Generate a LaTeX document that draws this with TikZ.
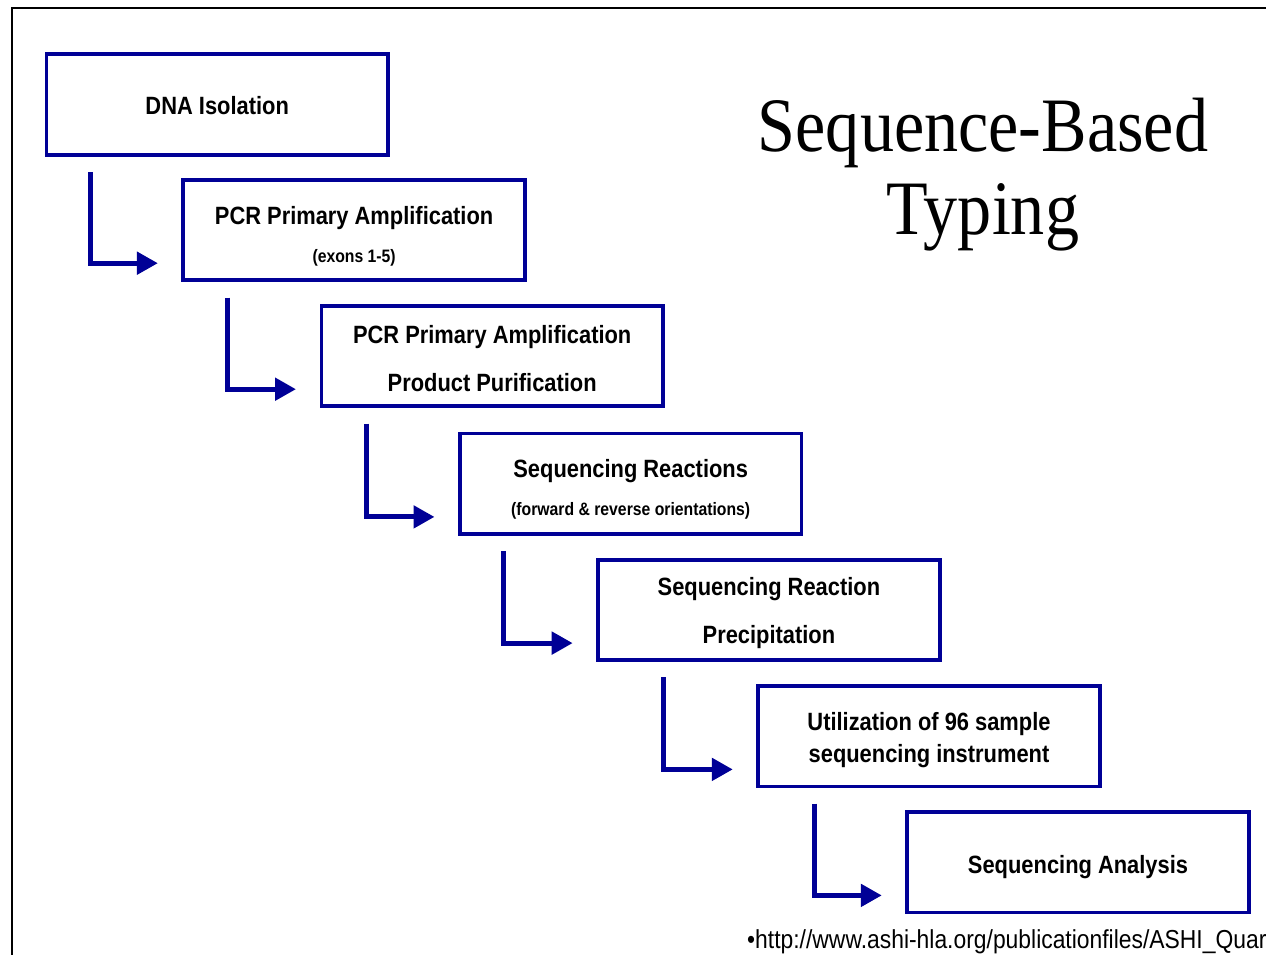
\documentclass[tikz,border=0pt]{standalone}
\usepackage{fontspec}
\setmainfont{Liberation Serif}
\newfontfamily\boxfont[FakeStretch=0.875]{Liberation Sans}
\newfontfamily\titlefont[FakeStretch=0.885]{Liberation Serif}
\newfontfamily\urlfont[FakeStretch=0.88]{Liberation Sans}
\usetikzlibrary{arrows.meta,calc}
\definecolor{boxblue}{RGB}{0,0,150}
\begin{document}
\begin{tikzpicture}[x=1pt,y=-1pt,
  stepbox/.style={draw=boxblue,line width=3.9pt,minimum width=341.5pt,minimum height=100.5pt,inner sep=0pt,fill=white},
  bigtxt/.style={font=\boxfont\bfseries\fontsize{25}{30}\selectfont,anchor=base,inner sep=0pt},
  smalltxt/.style={font=\boxfont\bfseries\fontsize{18}{22}\selectfont,anchor=base,inner sep=0pt},
  titletxt/.style={font=\titlefont\fontsize{77}{84}\selectfont,anchor=base,inner sep=0pt},
  urltxt/.style={font=\urlfont\fontsize{26}{30}\selectfont,anchor=base west,inner sep=0pt},
  flow/.style={draw=boxblue,line width=5pt,-{Triangle[length=21pt,width=22pt]}},
  frameline/.style={draw=black,line width=1.8pt}
]
\useasboundingbox (0,0) rectangle (1266,955);
\clip (0,0) rectangle (1266,955);
\fill[white] (0,0) rectangle (1266,955);
% outer frame (top and left edges visible)
\draw[frameline] (12,970) -- (12,8.3) -- (1280,8.3);

% boxes
\node[stepbox] (b1) at (217.2,104.6) {};
\node[stepbox] (b2) at (354.1,230) {};
\node[stepbox] (b3) at (492.2,356) {};
\node[stepbox] (b4) at (630.7,483.7) {};
\node[stepbox] (b5) at (768.9,609.9) {};
\node[stepbox] (b6) at (929,736.2) {};
\node[stepbox] (b7) at (1078,862.2) {};

% box texts
\node[bigtxt] (t1) at ($(b1.north)+(0,62.5)$) {DNA Isolation};
\node[bigtxt] (t2a) at ($(b2.north)+(0,46.5)$) {PCR Primary Amplification};
\node[smalltxt] (t2b) at ($(b2.north)+(0,85)$) {(exons 1-5)};
\node[bigtxt] (t3a) at ($(b3.north)+(0,39.5)$) {PCR Primary Amplification};
\node[bigtxt] (t3b) at ($(b3.north)+(0,88)$) {Product Purification};
\node[bigtxt] (t4a) at ($(b4.north)+(0,46)$) {Sequencing Reactions};
\node[smalltxt] (t4b) at ($(b4.north)+(0,83.5)$) {(forward \& reverse orientations)};
\node[bigtxt] (t5a) at ($(b5.north)+(0,37.3)$) {Sequencing Reaction};
\node[bigtxt] (t5b) at ($(b5.north)+(0,85.8)$) {Precipitation};
\node[bigtxt] (t6a) at ($(b6.north)+(0,46.2)$) {Utilization of 96 sample};
\node[bigtxt] (t6b) at ($(b6.north)+(0,78.7)$) {sequencing instrument};
\node[bigtxt] (t7) at ($(b7.north)+(0,63.7)$) {Sequencing Analysis};

% connector coordinates
\coordinate (s1) at ($(b1.south west)+(46,15.3)$);
\coordinate (e1) at ($(b2.south west)+(-23.5,-19)$);
\coordinate (s2) at ($(b2.south west)+(46.5,15.3)$);
\coordinate (e2) at ($(b3.south west)+(-23.5,-19)$);
\coordinate (s3) at ($(b3.south west)+(46.7,15.3)$);
\coordinate (e3) at ($(b4.south west)+(-23.5,-19)$);
\coordinate (s4) at ($(b4.south west)+(45,15.3)$);
\coordinate (e4) at ($(b5.south west)+(-23.5,-19)$);
\coordinate (s5) at ($(b5.south west)+(67.3,15.3)$);
\coordinate (e5) at ($(b6.south west)+(-23.5,-19)$);
\coordinate (s6) at ($(b6.south west)+(57.7,15.3)$);
\coordinate (e6) at ($(b7.south west)+(-23.5,-19)$);

\draw[flow] (s1) |- (e1);
\draw[flow] (s2) |- (e2);
\draw[flow] (s3) |- (e3);
\draw[flow] (s4) |- (e4);
\draw[flow] (s5) |- (e5);
\draw[flow] (s6) |- (e6);

% title
\node[titletxt] (title1) at (983,151) {Sequence-Based};
\node[titletxt] (title2) at (983,234) {Typing};

% source
\node[urltxt] (src) at (747,948) {•http://www.ashi-hla.org/publicationfiles/ASHI\_Quar};
\end{tikzpicture}
\end{document}
